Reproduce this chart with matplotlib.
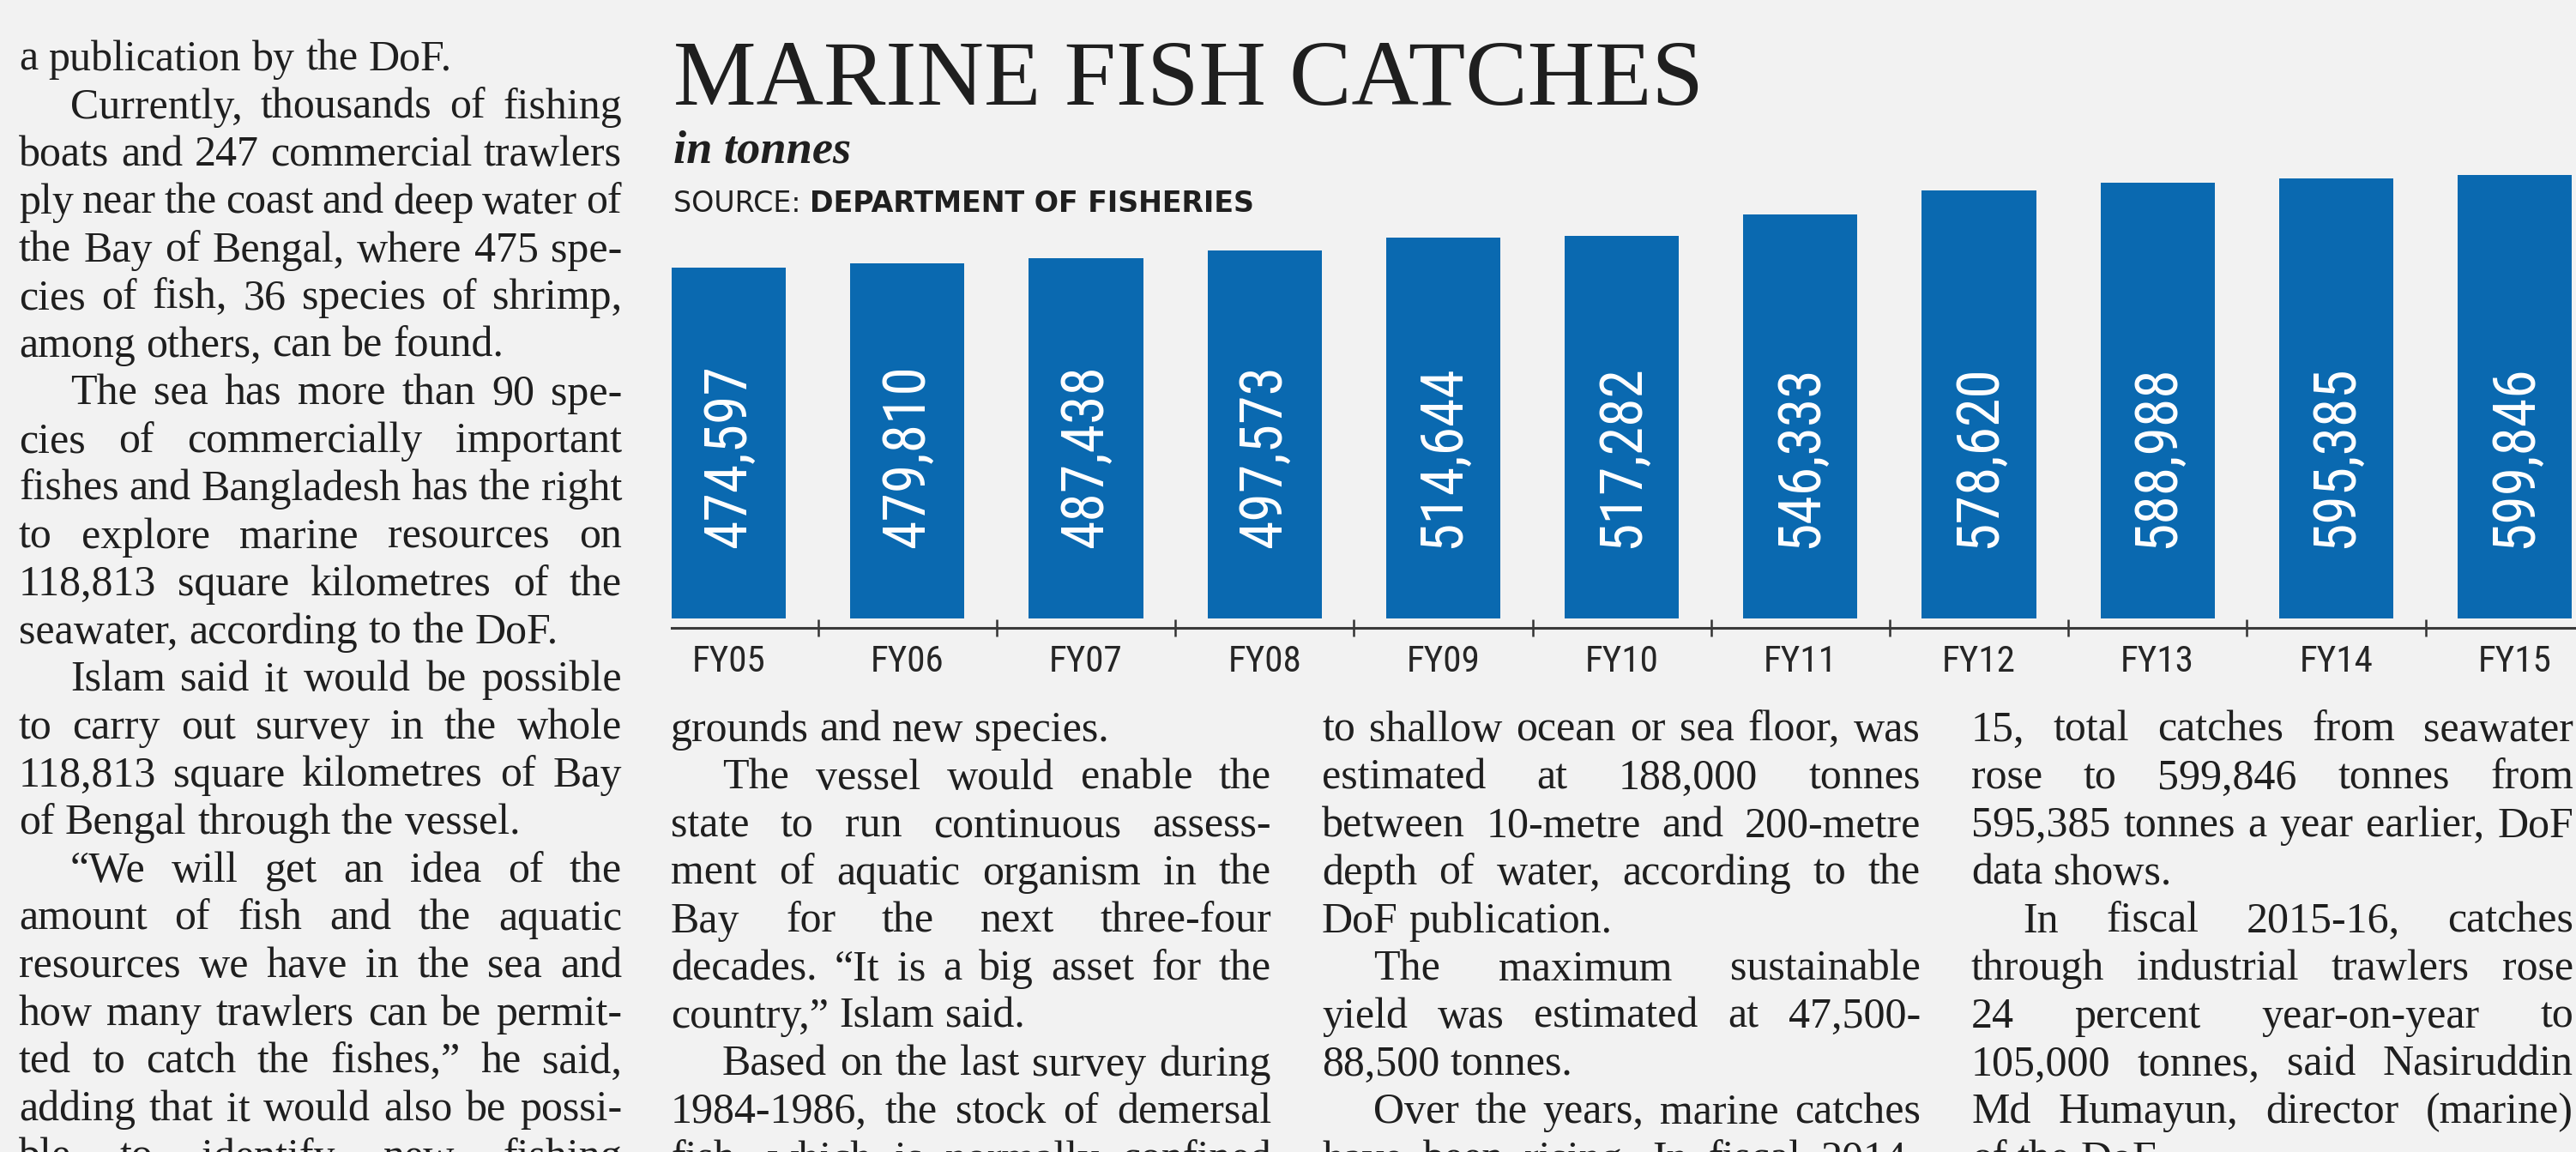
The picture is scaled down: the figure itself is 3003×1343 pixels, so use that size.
import matplotlib
matplotlib.use("Agg")
import matplotlib.pyplot as plt
from matplotlib.transforms import blended_transform_factory

# ---------------- data ----------------
years = ["FY05", "FY06", "FY07", "FY08", "FY09", "FY10",
         "FY11", "FY12", "FY13", "FY14", "FY15"]
catches = [474597, 479810, 487438, 497573, 514644, 517282,
           546333, 578620, 588988, 595385, 599846]

title = "MARINE FISH CATCHES"
unit_note = "in tonnes"
source_label = "SOURCE: "
source_name = "DEPARTMENT OF FISHERIES"

# article text: (line, indented first line, last line of paragraph)
col1_lines = [
    ("a publication by the DoF.", False, True),
    ("Currently, thousands of fishing", True, False),
    ("boats and 247 commercial trawlers", False, False),
    ("ply near the coast and deep water of", False, False),
    ("the Bay of Bengal, where 475 spe-", False, False),
    ("cies of fish, 36 species of shrimp,", False, False),
    ("among others, can be found.", False, True),
    ("The sea has more than 90 spe-", True, False),
    ("cies of commercially important", False, False),
    ("fishes and Bangladesh has the right", False, False),
    ("to explore marine resources on", False, False),
    ("118,813 square kilometres of the", False, False),
    ("seawater, according to the DoF.", False, True),
    ("Islam said it would be possible", True, False),
    ("to carry out survey in the whole", False, False),
    ("118,813 square kilometres of Bay", False, False),
    ("of Bengal through the vessel.", False, True),
    ("\u201cWe will get an idea of the", True, False),
    ("amount of fish and the aquatic", False, False),
    ("resources we have in the sea and", False, False),
    ("how many trawlers can be permit-", False, False),
    ("ted to catch the fishes,\u201d he said,", False, False),
    ("adding that it would also be possi-", False, False),
    ("ble to identify new fishing", False, False),
]
col2_lines = [
    ("grounds and new species.", False, True),
    ("The vessel would enable the", True, False),
    ("state to run continuous assess-", False, False),
    ("ment of aquatic organism in the", False, False),
    ("Bay for the next three-four", False, False),
    ("decades. \u201cIt is a big asset for the", False, False),
    ("country,\u201d Islam said.", False, True),
    ("Based on the last survey during", True, False),
    ("1984-1986, the stock of demersal", False, False),
    ("fish, which is normally confined", False, False),
]
col3_lines = [
    ("to shallow ocean or sea floor, was", False, False),
    ("estimated at 188,000 tonnes", False, False),
    ("between 10-metre and 200-metre", False, False),
    ("depth of water, according to the", False, False),
    ("DoF publication.", False, True),
    ("The maximum sustainable", True, False),
    ("yield was estimated at 47,500-", False, False),
    ("88,500 tonnes.", False, True),
    ("Over the years, marine catches", True, False),
    ("have been rising. In fiscal 2014-", False, False),
]
col4_lines = [
    ("15, total catches from seawater", False, False),
    ("rose to 599,846 tonnes from", False, False),
    ("595,385 tonnes a year earlier, DoF", False, False),
    ("data shows.", False, True),
    ("In fiscal 2015-16, catches", True, False),
    ("through industrial trawlers rose", False, False),
    ("24 percent year-on-year to", False, False),
    ("105,000 tonnes, said Nasiruddin", False, False),
    ("Md Humayun, director (marine)", False, False),
    ("of the DoF.", False, True),
]

# ---------------- style ----------------
W, H, DPI = 3003, 1343, 100
BG = "#f2f2f2"
INK = "#1f1f1f"
BAR = "#0a69b0"
SERIF = ["Liberation Serif", "DejaVu Serif"]
COND = ["Liberation Sans Narrow", "Roboto Condensed", "DejaVu Sans"]
SANS = ["DejaVu Sans"]

fig = plt.figure(figsize=(W / DPI, H / DPI), dpi=DPI, facecolor=BG)
R = fig.canvas.get_renderer()


def fx(px):
    return px / W


def fy(py):
    return 1 - py / H


def ext(t):
    return t.get_window_extent(renderer=R)


def fit(t, target, dim="w", grow=False):
    e = ext(t)
    size = e.width if dim == "w" else e.height
    if size > target or grow:
        t.set_fontsize(t.get_fontsize() * target / size)


# ---------------- headline block ----------------
t = fig.text(fx(785), fy(122), title, family=SERIF, fontsize=80,
             color=INK, va="baseline", ha="left")
fit(t, 1202, grow=True)

t = fig.text(fx(785), fy(190), unit_note, family=SERIF, fontsize=38,
             style="italic", weight="bold", color=INK, va="baseline", ha="left")
fit(t, 207, grow=True)

s1 = fig.text(fx(785), fy(247), source_label, family=SANS, fontsize=24,
              color=INK, va="baseline", ha="left")
s2 = fig.text(0, fy(247), source_name, family=SANS, fontsize=24,
              weight="bold", color=INK, va="baseline", ha="left")
tot = ext(s1).width + ext(s2).width
for s in (s1, s2):
    s.set_fontsize(s.get_fontsize() * 680 / tot)
s2.set_x(fx(785 + ext(s1).width))

# ---------------- bar chart ----------------
ax_left, ax_right, ax_top, ax_bot = 783, 3003, 150, 732
ax = fig.add_axes([fx(ax_left), fy(ax_bot), (ax_right - ax_left) / W,
                   (ax_bot - ax_top) / H])
ax.set_facecolor("none")
pos = list(range(len(years)))
ax.bar(pos, catches, width=0.64, color=BAR, zorder=2)

step_px = 208.2
ax.set_xlim(-0.32, -0.32 + (ax_right - ax_left) / step_px)
u = max(catches) / 517.0          # data units per pixel
gap_px = 11
ax.set_ylim(-gap_px * u, (ax_bot - ax_top - gap_px) * u)
ax.set_yticks([])
for sp in ("top", "left", "right"):
    ax.spines[sp].set_visible(False)
ax.spines["bottom"].set_color("#3a3a3a")
ax.spines["bottom"].set_linewidth(2.2)

ax.set_xticks(pos, years)
ax.set_xticks([p + 0.5 for p in pos[:-1]], minor=True)
ax.tick_params(axis="x", which="major", length=0, pad=14)
ax.tick_params(axis="x", which="minor", direction="inout", length=14,
               width=1.8, color="#333333")
for lab in ax.get_xticklabels():
    lab.set_family(COND)
    lab.set_fontstretch("condensed")
    lab.set_fontsize(36)
    lab.set_color("#262626")
fig.canvas.draw()
sizes = []
for lab in ax.get_xticklabels():
    w = lab.get_window_extent(renderer=R).width
    sizes.append(36 * 86 / w if w > 86 else 36)
fsl = min(sizes)
for lab in ax.get_xticklabels():
    lab.set_fontsize(fsl)

trans = blended_transform_factory(ax.transData, ax.transAxes)
label_y = (ax_bot - 532) / (ax_bot - ax_top)
vlabels = []
for p, v in zip(pos, catches):
    vt = ax.text(p, label_y, f"{v:,}", rotation=90, ha="center", va="center",
                 color="white", family=COND, fontstretch="condensed",
                 fontsize=56, transform=trans, zorder=3)
    vlabels.append(vt)
fs_v = min(56 * min(1, 214 / ext(vt).height) for vt in vlabels)
for vt in vlabels:
    vt.set_fontsize(fs_v)

# ---------------- article columns ----------------
LEAD = 55.65
INDENT = 60
columns = [
    (col1_lines, 22, 725, 82),
    (col2_lines, 782, 1482, 864),
    (col3_lines, 1541, 2239, 864),
    (col4_lines, 2298, 3000, 864),
]

# choose a body size that lets every justified line fit with tight spaces
fs0 = 36.0
min_space_em = 0.17
ratios = []
for lines, x0, x1, _ in columns:
    for txt, ind, last in lines:
        words = txt.split()
        tmps = [fig.text(0, 0, w, family=SERIF, fontsize=fs0) for w in words]
        natural = sum(ext(tt).width for tt in tmps) + \
            (len(words) - 1) * min_space_em * fs0 * DPI / 72
        for tt in tmps:
            tt.remove()
        avail = x1 - x0 - (INDENT if ind else 0)
        ratios.append(avail / natural)
fs_body = min(fs0, fs0 * min(ratios) * 0.995)
space_px = 0.25 * fs_body * DPI / 72

for lines, x0, x1, y0 in columns:
    for k, (txt, ind, last) in enumerate(lines):
        yb = y0 + k * LEAD
        words = txt.split()
        left = x0 + (INDENT if ind else 0)
        ts = [fig.text(0, 0, w, family=SERIF, fontsize=fs_body, color=INK,
                       va="baseline", ha="left") for w in words]
        ws = [ext(tt).width for tt in ts]
        if last or len(words) == 1:
            gap = space_px
        else:
            gap = (x1 - left - sum(ws)) / (len(words) - 1)
        x = left
        for tt, w in zip(ts, ws):
            tt.set_position((fx(x), fy(yb)))
            x += w + gap

fig.savefig("out.png", dpi=DPI, facecolor=BG)
